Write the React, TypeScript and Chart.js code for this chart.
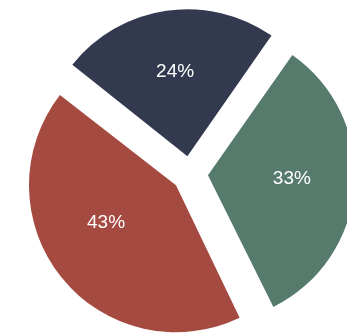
import React, { useEffect, useRef } from "react";
import { Chart, registerables } from "chart.js";

Chart.register(...registerables);

const categories = ["A", "B", "C"];
const values = [24, 33, 43];
const labels = ["24%", "33%", "43%"];
const colors = ["#333a4f", "#567a6b", "#a54a40"];

const RADIUS = 147;
const OFFSET = 72;

// keep every slice at the same radius (Chart.js enlarges exploded wide slices)
const evenRadiusPlugin = {
  id: "evenRadius",
  beforeDatasetsDraw(chart: any) {
    const meta = chart.getDatasetMeta(0);
    meta.data.forEach((arc: any) => {
      const off = (arc.options.offset || 0) / 4;
      const circ = arc.endAngle - arc.startAngle;
      const fix = 1 - Math.sin(Math.min(Math.PI, circ));
      arc.outerRadius = RADIUS - off * fix;
    });
  },
};

const labelPlugin = {
  id: "sliceLabels",
  afterDatasetsDraw(chart: any, _args: any, opts: any) {
    const { ctx } = chart;
    const meta = chart.getDatasetMeta(0);
    const fracs: number[] = opts.fracs || [];
    ctx.save();
    ctx.fillStyle = "#ffffff";
    ctx.font = '19px "Liberation Sans", Arial, sans-serif';
    ctx.textAlign = "center";
    ctx.textBaseline = "middle";
    meta.data.forEach((arc: any, i: number) => {
      const off = (arc.options.offset || 0) / 4;
      const mid = (arc.startAngle + arc.endAngle) / 2;
      const f = fracs[i] ?? 0.5;
      const ang = arc.startAngle + (arc.endAngle - arc.startAngle) * f;
      const r = arc.outerRadius * 0.58;
      const x = arc.x + Math.cos(mid) * off + Math.cos(ang) * r;
      const y = arc.y + Math.sin(mid) * off + Math.sin(ang) * r;
      ctx.fillText(labels[i], x, y);
    });
    ctx.restore();
  },
};

export default function App() {
  const ref = useRef<HTMLCanvasElement>(null);
  useEffect(() => {
    const chart = new Chart(ref.current!, {
      type: "pie",
      data: {
        labels: categories,
        datasets: [
          {
            data: values,
            backgroundColor: colors,
            borderWidth: 0,
            offset: OFFSET,
            clip: false as any,
          } as any,
        ],
      },
      options: {
        animation: false,
        responsive: false,
        rotation: 308.5,
        radius: RADIUS,
        layout: { padding: { left: 33, top: 15, right: 0, bottom: 0 } },
        plugins: {
          legend: { display: false },
          tooltip: { enabled: false },
          sliceLabels: { fracs: [0.5, 0.485, 0.57] },
        },
      } as any,
      plugins: [evenRadiusPlugin, labelPlugin],
    });
    return () => chart.destroy();
  }, []);
  return (
    <div style={{ position: "fixed", left: 0, top: 0, width: 347, height: 333, background: "#fff" }}>
      <canvas ref={ref} width={347} height={333} style={{ display: "block" }} />
    </div>
  );
}
